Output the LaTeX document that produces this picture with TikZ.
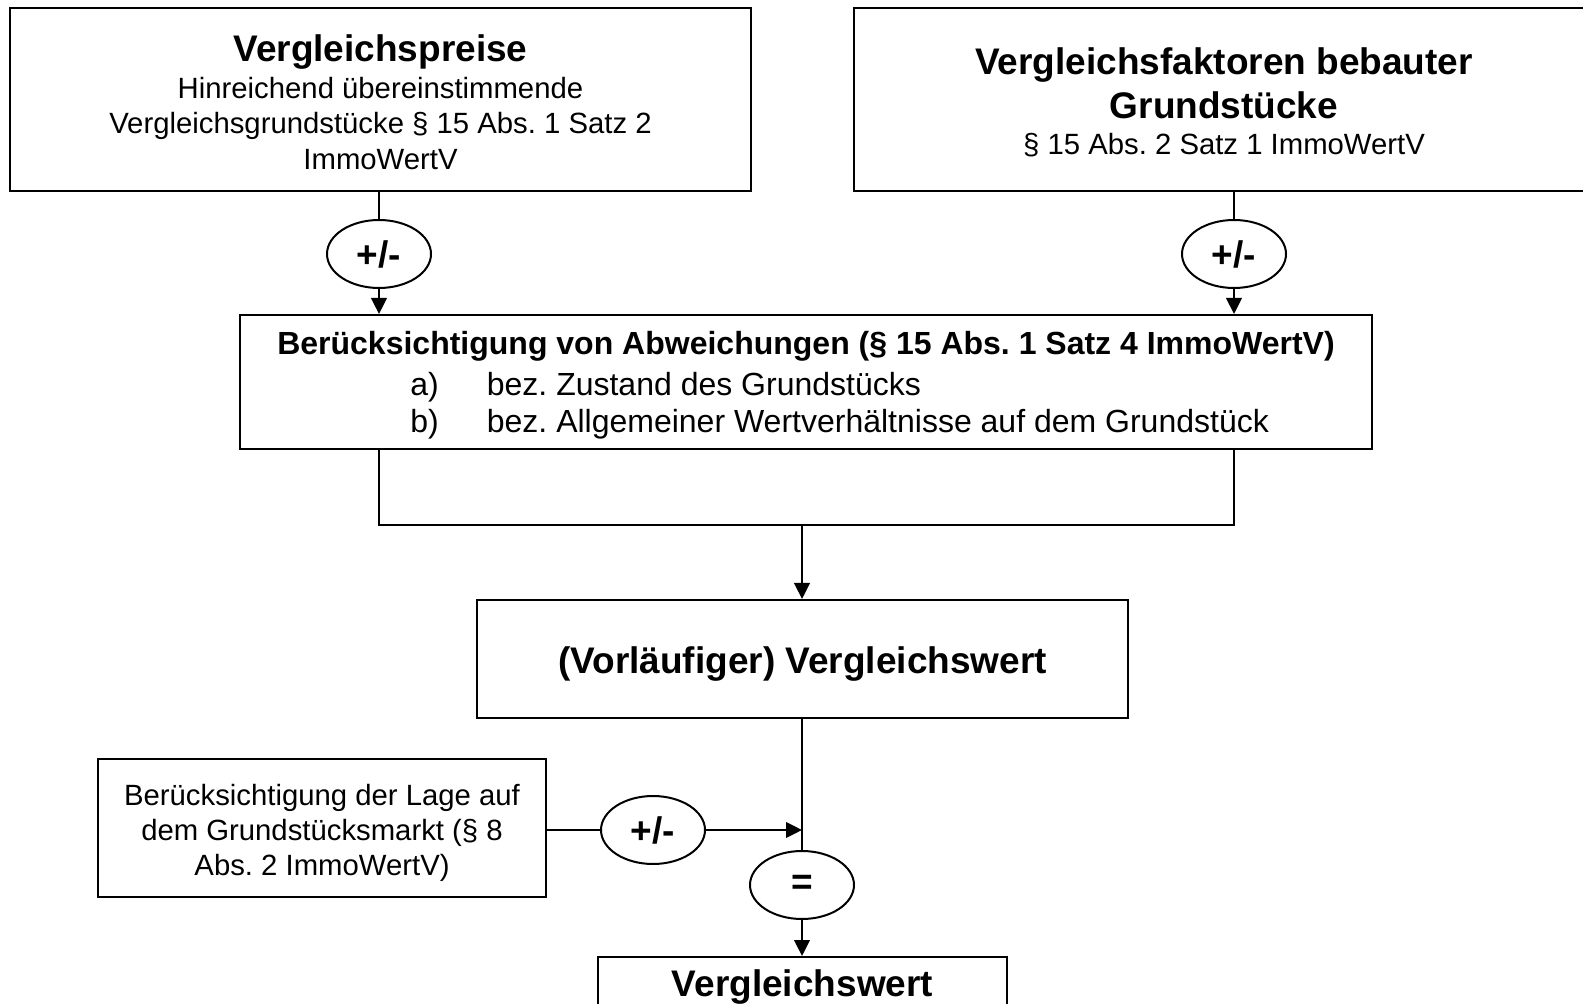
\documentclass[tikz,border=0pt]{standalone}
\usepackage{fontspec}
\setmainfont{Liberation Sans}
\usetikzlibrary{arrows.meta,shapes.geometric}
\frenchspacing

\tikzset{
  box/.style={draw, line width=1pt, rectangle, inner sep=0pt, fill=white},
  oper/.style={draw, line width=1pt, ellipse, minimum width=52pt, minimum height=34pt,
               inner sep=0pt, fill=white, font=\fontsize{18.5}{22}\selectfont\bfseries},
  title/.style={anchor=base, inner sep=0pt, font=\fontsize{18.5}{22}\selectfont\bfseries},
  sub/.style={anchor=base, inner sep=0pt, font=\fontsize{14.65}{17.6}\selectfont},
  midtext/.style={anchor=base, inner sep=0pt, font=\fontsize{16}{19.2}\selectfont},
  link/.style={line width=1pt},
  flow/.style={line width=1pt, -{Triangle[length=8pt,width=7.8pt]}},
}

\begin{document}
\begin{tikzpicture}[x=0.5pt, y=-0.5pt]
  \useasboundingbox (0,0) rectangle (1583,1004);
  \fill[white] (0,0) rectangle (1583,1004);

  % top row: the two sources of comparison data
  \node[box, minimum width=370.5pt, minimum height=91.5pt] (preise) at (380.5,99.5) {};
  \node[title] (preiseT) at (380.5,61.8) {Vergleichspreise};
  \node[sub] (preiseA) at (380.5,98.5) {Hinreichend übereinstimmende};
  \node[sub] (preiseB) at (380.5,133.7) {Vergleichsgrundstücke § 15 Abs. 1 Satz 2};
  \node[sub] (preiseC) at (380.5,169.7) {ImmoWertV};

  \node[box, minimum width=370pt, minimum height=91.5pt] (faktoren) at (1224,99.5) {};
  \node[title] (faktorenT) at (1224,74.5) {Vergleichsfaktoren bebauter};
  \node[title] (faktorenU) at (1224,119) {Grundstücke};
  \node[sub] (faktorenA) at (1224,154.5) {§ 15 Abs. 2 Satz 1 ImmoWertV};

  % adjustment operators under the sources
  \node[oper] (pm1) at (379,254) {+/-};
  \node[oper] (pm2) at (1234,254) {+/-};

  % deviations box
  \node[box, minimum width=566pt, minimum height=67pt] (abw) at (806,382) {};
  \node[midtext, font=\fontsize{16}{19.2}\selectfont\bfseries] (abwT) at (806,355)
    {Berücksichtigung von Abweichungen (§ 15 Abs. 1 Satz 4 ImmoWertV)};
  \node[midtext, anchor=base west] (abwA) at (410,395.5) {a)};
  \node[midtext, anchor=base west] (abwAt) at (486.5,395.5) {bez. Zustand des Grundstücks};
  \node[midtext, anchor=base west] (abwB) at (410,432.5) {b)};
  \node[midtext, anchor=base west] (abwBt) at (486.5,432.5) {bez. Allgemeiner Wertverhältnisse auf dem Grundstück};

  % joining bracket
  \coordinate (joinL) at (379,525);
  \coordinate (joinR) at (1234,525);
  \coordinate (joinM) at (802,525);

  % preliminary value
  \node[box, minimum width=325.5pt, minimum height=59pt] (vorl) at (802.5,659) {};
  \node[title] (vorlT) at (802.5,673.3) {(Vorläufiger) Vergleichswert};

  % market adjustment
  \node[box, minimum width=224pt, minimum height=69pt] (markt) at (322,828) {};
  \node[sub] (marktA) at (322,805) {Berücksichtigung der Lage auf};
  \node[sub] (marktB) at (322,840.5) {dem Grundstücksmarkt (§ 8};
  \node[sub] (marktC) at (322,875) {Abs. 2 ImmoWertV)};
  \node[oper] (pm3) at (653,830) {+/-};
  \node[oper] (eq) at (802,885) {=};

  % final value
  \node[box, minimum width=204.5pt, minimum height=51.5pt] (wert) at (802.5,1008.5) {};
  \node[title] (wertT) at (802.5,996) {Vergleichswert};

  % connectors
  \draw[link] (preise.south -| pm1.north) -- (pm1.north);
  \draw[flow] (pm1.south) -- (pm1.south |- abw.north);
  \draw[link] (faktoren.south -| pm2.north) -- (pm2.north);
  \draw[flow] (pm2.south) -- (pm2.south |- abw.north);

  \draw[link] (abw.south -| joinL) -- (joinL) -- (joinR) -- (abw.south -| joinR);
  \draw[flow] (joinM) -- (joinM |- vorl.north);

  \draw[link] (vorl.south -| eq.north) -- (eq.north);
  \draw[link] (markt.east |- pm3.west) -- (pm3.west);
  \draw[flow] (pm3.east) -- (pm3.east -| eq.north);
  \draw[flow] (eq.south) -- (eq.south |- wert.north);
\end{tikzpicture}
\end{document}
